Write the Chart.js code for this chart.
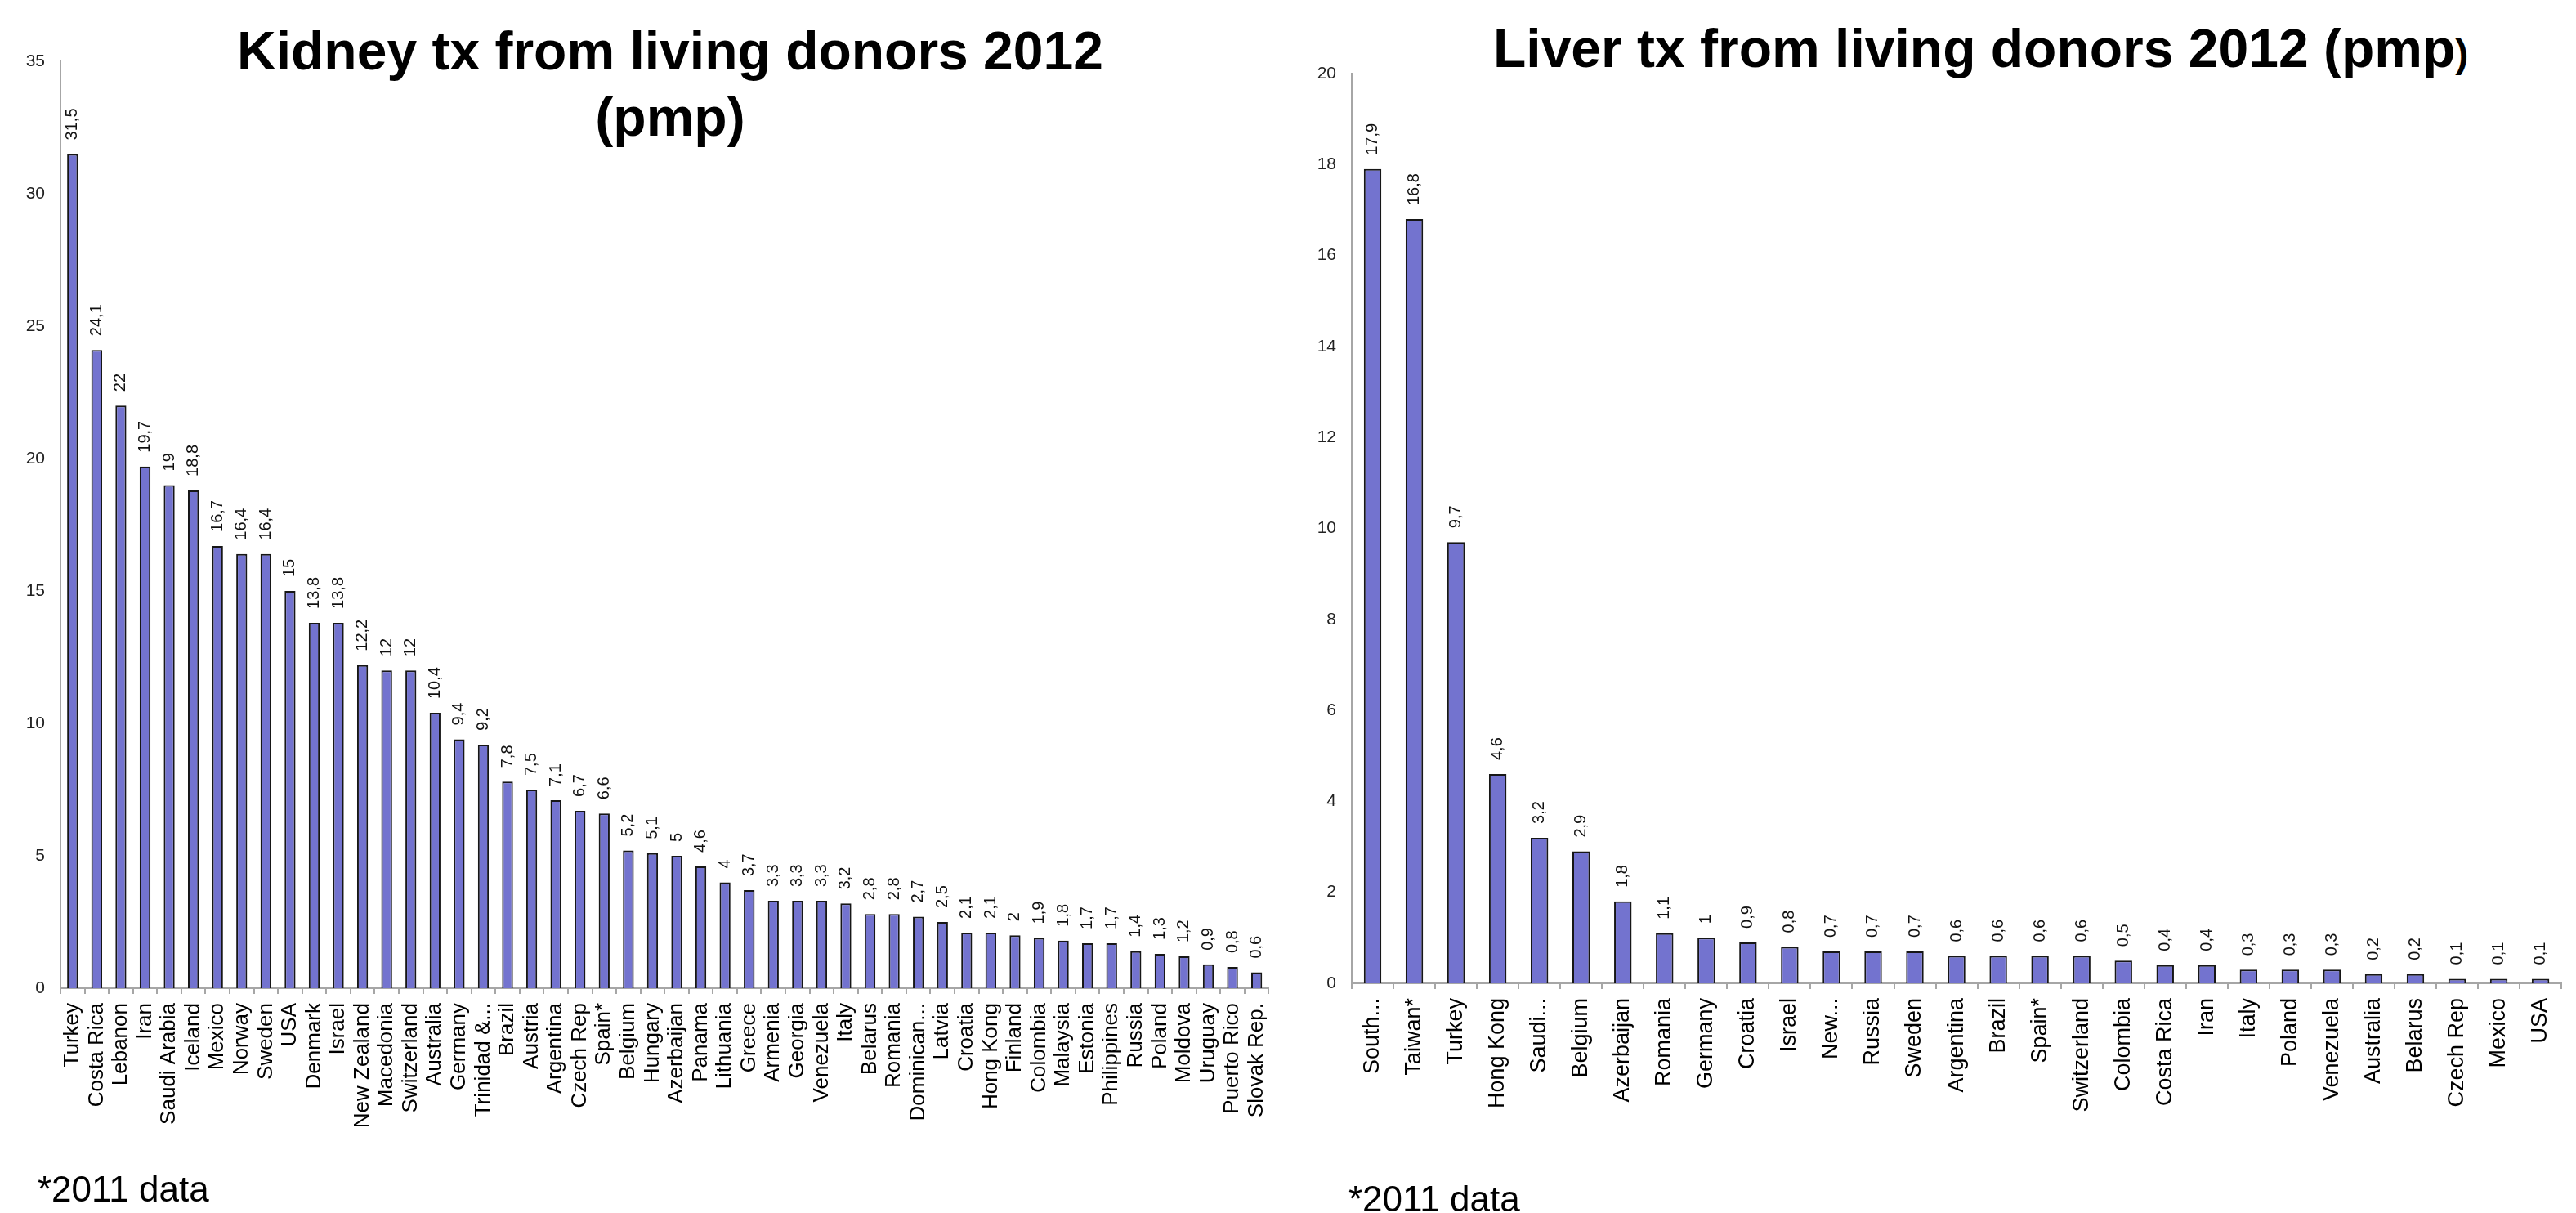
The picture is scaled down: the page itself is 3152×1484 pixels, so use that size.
<!DOCTYPE html>
<html>
<head>
<meta charset="utf-8">
<title>Living donor transplants 2012</title>
<script src="https://cdn.jsdelivr.net/npm/chart.js@4.4.0/dist/chart.umd.min.js"></script>
<style>
  body { margin: 0; background: #fff; width: 3152px; height: 1484px; position: relative; overflow: hidden;
         font-family: 'Liberation Sans', Arial, sans-serif; color: #000; }
  canvas { position: absolute; top: 0; }
  #kidneyChart { left: 0; }
  #liverChart { left: 1580px; }
  .title { position: absolute; font-weight: bold; font-size: 66px; line-height: 81px; white-space: nowrap; }
  #kidneyTitle { left: 0; width: 1640px; top: 22px; text-align: center; }
  #liverTitle { left: 1827px; top: 19px; }
  #liverTitle small { font-size: 48px; }
  .note { position: absolute; font-size: 44px; line-height: 44px; white-space: nowrap; }
</style>
</head>
<body>
<div class="title" id="kidneyTitle">Kidney tx from living donors 2012<br>(pmp)</div>
<div class="title" id="liverTitle">Liver tx from living donors 2012 (pmp<small>)</small></div>
<canvas id="kidneyChart" width="1580" height="1484"></canvas>
<canvas id="liverChart" width="1572" height="1484"></canvas>
<div class="note" style="left:46px; top:1433px;">*2011 data</div>
<div class="note" style="left:1650px; top:1445px;">*2011 data</div>

<script>
// kidney transplants from living donors, per million population
const kidneyCountries = ['Turkey', 'Costa Rica', 'Lebanon', 'Iran', 'Saudi Arabia', 'Iceland', 'Mexico',
  'Norway', 'Sweden', 'USA', 'Denmark', 'Israel', 'New Zealand', 'Macedonia', 'Switzerland', 'Australia',
  'Germany', 'Trinidad &...', 'Brazil', 'Austria', 'Argentina', 'Czech Rep', 'Spain*', 'Belgium', 'Hungary',
  'Azerbaijan', 'Panama', 'Lithuania', 'Greece', 'Armenia', 'Georgia', 'Venezuela', 'Italy', 'Belarus',
  'Romania', 'Dominican...', 'Latvia', 'Croatia', 'Hong Kong', 'Finland', 'Colombia', 'Malaysia', 'Estonia',
  'Philippines', 'Russia', 'Poland', 'Moldova', 'Uruguay', 'Puerto Rico', 'Slovak Rep.'];
const kidneyValues = [31.5, 24.1, 22, 19.7, 19, 18.8, 16.7, 16.4, 16.4, 15, 13.8, 13.8, 12.2, 12, 12, 10.4,
  9.4, 9.2, 7.8, 7.5, 7.1, 6.7, 6.6, 5.2, 5.1, 5, 4.6, 4, 3.7, 3.3, 3.3, 3.3, 3.2, 2.8, 2.8, 2.7, 2.5,
  2.1, 2.1, 2, 1.9, 1.8, 1.7, 1.7, 1.4, 1.3, 1.2, 0.9, 0.8, 0.6];
const kidneyTicks = [0, 5, 10, 15, 20, 25, 30, 35];

// liver transplants from living donors, per million population
const liverCountries = ['South...', 'Taiwan*', 'Turkey', 'Hong Kong', 'Saudi...', 'Belgium', 'Azerbaijan',
  'Romania', 'Germany', 'Croatia', 'Israel', 'New...', 'Russia', 'Sweden', 'Argentina', 'Brazil', 'Spain*',
  'Switzerland', 'Colombia', 'Costa Rica', 'Iran', 'Italy', 'Poland', 'Venezuela', 'Australia', 'Belarus',
  'Czech Rep', 'Mexico', 'USA'];
const liverValues = [17.9, 16.8, 9.7, 4.6, 3.2, 2.9, 1.8, 1.1, 1, 0.9, 0.8, 0.7, 0.7, 0.7, 0.6, 0.6, 0.6,
  0.6, 0.5, 0.4, 0.4, 0.3, 0.3, 0.3, 0.2, 0.2, 0.1, 0.1, 0.1];
const liverTicks = [0, 2, 4, 6, 8, 10, 12, 14, 16, 18, 20];

Chart.defaults.font.family = "'Liberation Sans', Arial, sans-serif";

// writes each bar's value (decimal comma) vertically above it
const barValueLabels = {
  id: 'barValueLabels',
  afterDatasetsDraw(chart) {
    const ctx = chart.ctx;
    const values = chart.data.datasets[0].data;
    ctx.save();
    ctx.font = "20px 'Liberation Sans', Arial, sans-serif";
    ctx.fillStyle = '#111';
    ctx.textAlign = 'left';
    ctx.textBaseline = 'middle';
    chart.getDatasetMeta(0).data.forEach((bar, i) => {
      ctx.save();
      ctx.translate(bar.x, bar.y - 17);
      ctx.rotate(-Math.PI / 2);
      ctx.fillText(String(values[i]).replace('.', ','), 0, 0);
      ctx.restore();
    });
    ctx.restore();
  }
};

function makeChart(id, labels, values, yTicks, cfg) {
  const axisGrey = '#a6a6a6';
  return new Chart(document.getElementById(id), {
    type: 'bar',
    data: {
      labels: labels,
      datasets: [{
        data: values,
        backgroundColor: '#7373cf',
        borderColor: '#161616',
        borderWidth: 2,
        categoryPercentage: 1,
        barPercentage: cfg.barPct
      }]
    },
    options: {
      responsive: false,
      animation: false,
      devicePixelRatio: 1,
      layout: { padding: { top: cfg.top, right: cfg.right, left: 0, bottom: 0 } },
      plugins: { legend: { display: false }, tooltip: { enabled: false } },
      scales: {
        x: {
          grid: { display: true, offset: true, drawOnChartArea: false, drawTicks: true,
                  tickLength: 7, color: axisGrey, lineWidth: 2 },
          border: { display: true, color: axisGrey, width: 2 },
          ticks: { autoSkip: false, maxRotation: 90, minRotation: 90, padding: 11,
                   color: '#000', font: { size: cfg.labelSize } },
          afterFit: s => { s.height = cfg.xHeight; }
        },
        y: {
          min: yTicks[0],
          max: yTicks[yTicks.length - 1],
          grid: { display: false, drawTicks: false },
          border: { display: true, color: axisGrey, width: 2 },
          ticks: { padding: 19, color: '#222', font: { size: 21 } },
          afterBuildTicks: s => { s.ticks = yTicks.map(v => ({ value: v })); },
          afterFit: s => { s.width = 74; }
        }
      }
    },
    plugins: [barValueLabels]
  });
}

makeChart('kidneyChart', kidneyCountries, kidneyValues, kidneyTicks,
  { top: 75, right: 15, xHeight: 275, barPct: 0.45, labelSize: 26 });
makeChart('liverChart', liverCountries, liverValues, liverTicks,
  { top: 90, right: 0, xHeight: 281, barPct: 0.42, labelSize: 27 });
</script>
</body>
</html>
